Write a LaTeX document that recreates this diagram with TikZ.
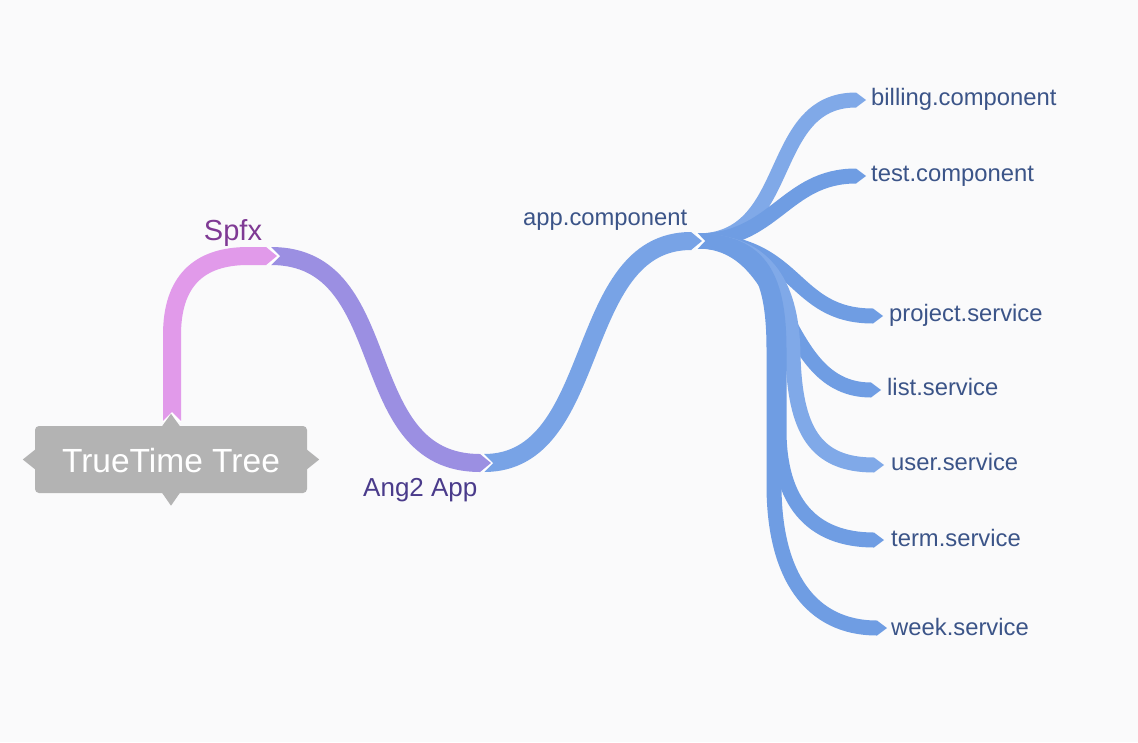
\documentclass[tikz,border=0pt]{standalone}
\usepackage{fontspec}
\setmainfont{Liberation Sans}
\definecolor{bg}{HTML}{FAFAFB}
\definecolor{rootgray}{HTML}{B3B3B3}
\definecolor{pinkr}{HTML}{E19AEA}
\definecolor{purpr}{HTML}{9B8FE2}
\definecolor{bluea}{HTML}{78A3E6}
\definecolor{blued}{HTML}{6F9DE3}
\definecolor{bluel}{HTML}{80A9E8}
\definecolor{txtpink}{HTML}{7F3A94}
\definecolor{txtpurp}{HTML}{4A3B8B}
\definecolor{txtblue}{HTML}{3B5488}
\begin{document}
\begin{tikzpicture}[x=1pt,y=-1pt,
  mainrib/.style={line width=18pt, line cap=butt, draw=#1},
  subrib/.style={line width=15pt, line cap=butt, draw=#1},
  lbl/.style={anchor=base west, inner sep=0pt, font=\fontsize{23.8}{28}\selectfont, text=txtblue},
  notchfill/.style={fill=white},
]
\useasboundingbox (0,0) rectangle (1138,742);
\fill[bg] (0,0) rectangle (1138,742);

% ---------- coordinates ----------
\coordinate (spS) at (172,421);
\coordinate (spE) at (266,256);
\coordinate (spT) at (277,256);
\coordinate (anS) at (271,256);
\coordinate (anE) at (480,463);
\coordinate (anT) at (491,463);
\coordinate (apS) at (484,463);
\coordinate (apE) at (691,241);
\coordinate (apT) at (702,241);
\coordinate (jS) at (697,241);
\coordinate (bilE) at (856,100); \coordinate (bilT) at (866,100);
\coordinate (tesE) at (856,176); \coordinate (tesT) at (866,176);
\coordinate (proE) at (873,316); \coordinate (proT) at (883,316);
\coordinate (lisE) at (871,390); \coordinate (lisT) at (881,390);
\coordinate (useE) at (874,465); \coordinate (useT) at (884,465);
\coordinate (terE) at (874,540); \coordinate (terT) at (884,540);
\coordinate (weeE) at (877,628); \coordinate (weeT) at (887,628);

% ---------- ribbons ----------
\draw[mainrib=pinkr] (spS) -- (172,335) .. controls (172,282) and (198,256) .. (248,256) -- (spE);
\draw[mainrib=purpr] (anS) .. controls (400,256) and (350,463) .. (anE);
\draw[mainrib=bluea] (apS) .. controls (603,463) and (572,241) .. (apE);

\draw[subrib=bluel] (jS) .. controls (795,241) and (765,100) .. (bilE);
\draw[subrib=blued] (jS) .. controls (775,241) and (785,176) .. (tesE);
\draw[subrib=blued] (jS) .. controls (800,241) and (790,316) .. (proE);
\draw[subrib=blued] (jS) .. controls (792,241) and (778,390) .. (lisE);
\draw[subrib=bluel] (jS) .. controls (770,241) and (792,290) .. (793,355) .. controls (795,430) and (815,465) .. (useE);
\draw[subrib=blued] (jS) .. controls (762,241) and (779,280) .. (779,350) -- (779,430) .. controls (779,500) and (810,540) .. (terE);
\draw[subrib=blued] (jS) .. controls (760,241) and (774,280) .. (774,350) -- (774,485) .. controls (774,575) and (810,628) .. (weeE);

% ---------- notches ----------
\fill[notchfill] (spS) ++(-10,1) -- ++(10,-10) -- ++(10,10) -- cycle;
\fill[notchfill] (anS) ++(-1,-10) -- ++(10,10) -- ++(-10,10) -- cycle;
\fill[notchfill] (apS) ++(-1,-10) -- ++(10,10) -- ++(-10,10) -- cycle;
\fill[notchfill] (jS) ++(-1,-9.5) -- ++(9,9.5) -- ++(-9,9.5) -- cycle;

% ---------- tips ----------
\fill[pinkr] (spT) -- ++(-11,-9) -- ++(0,18) -- cycle;
\fill[purpr] (anT) -- ++(-11,-9) -- ++(0,18) -- cycle;
\fill[bluea] (apT) -- ++(-11,-9) -- ++(0,18) -- cycle;
\fill[bluel] (bilT) -- ++(-10,-7.5) -- ++(0,15) -- cycle;
\fill[blued] (tesT) -- ++(-10,-7.5) -- ++(0,15) -- cycle;
\fill[blued] (proT) -- ++(-10,-7.5) -- ++(0,15) -- cycle;
\fill[blued] (lisT) -- ++(-10,-7.5) -- ++(0,15) -- cycle;
\fill[bluel] (useT) -- ++(-10,-7.5) -- ++(0,15) -- cycle;
\fill[blued] (terT) -- ++(-10,-7.5) -- ++(0,15) -- cycle;
\fill[blued] (weeT) -- ++(-10,-7.5) -- ++(0,15) -- cycle;

% ---------- root ----------
\node[fill=rootgray, rounded corners=4pt, minimum width=272pt, minimum height=67pt, inner sep=0pt] (root) at (171,459.5) {};
\fill[rootgray] (root.west) ++(0.5,-10) -- ++(-12.5,10) -- ++(12.5,10) -- cycle;
\fill[rootgray] (root.east) ++(-0.5,-10) -- ++(12.5,10) -- ++(-12.5,10) -- cycle;
\fill[rootgray] (root.south) ++(-9,-0.5) -- ++(9,13) -- ++(9,-13) -- cycle;
\fill[rootgray] (root.north) ++(-9,0.5) -- ++(9,-12.5) -- ++(9,12.5) -- cycle;
\node[anchor=base, inner sep=0pt, text=white, font=\fontsize{33.5}{40}\selectfont] (roottxt) at (171,472) {TrueTime Tree};

% ---------- labels ----------
\node[anchor=base, inner sep=0pt, text=txtpink, font=\fontsize{29}{34}\selectfont] (spfx) at (233,240) {Spfx};
\node[lbl, text=txtpurp, font=\fontsize{26}{30}\selectfont] (ang) at (363,496) {Ang2 App};
\node[lbl] (appc) at (523,225) {app.component};
\node[lbl] (bil) at (871,105) {billing.component};
\node[lbl] (tes) at (871,181) {test.component};
\node[lbl] (pro) at (889,321) {project.service};
\node[lbl] (lis) at (887,395) {list.service};
\node[lbl] (use) at (891,470) {user.service};
\node[lbl] (ter) at (891,546) {term.service};
\node[lbl] (wee) at (891,635) {week.service};
\end{tikzpicture}
\end{document}
